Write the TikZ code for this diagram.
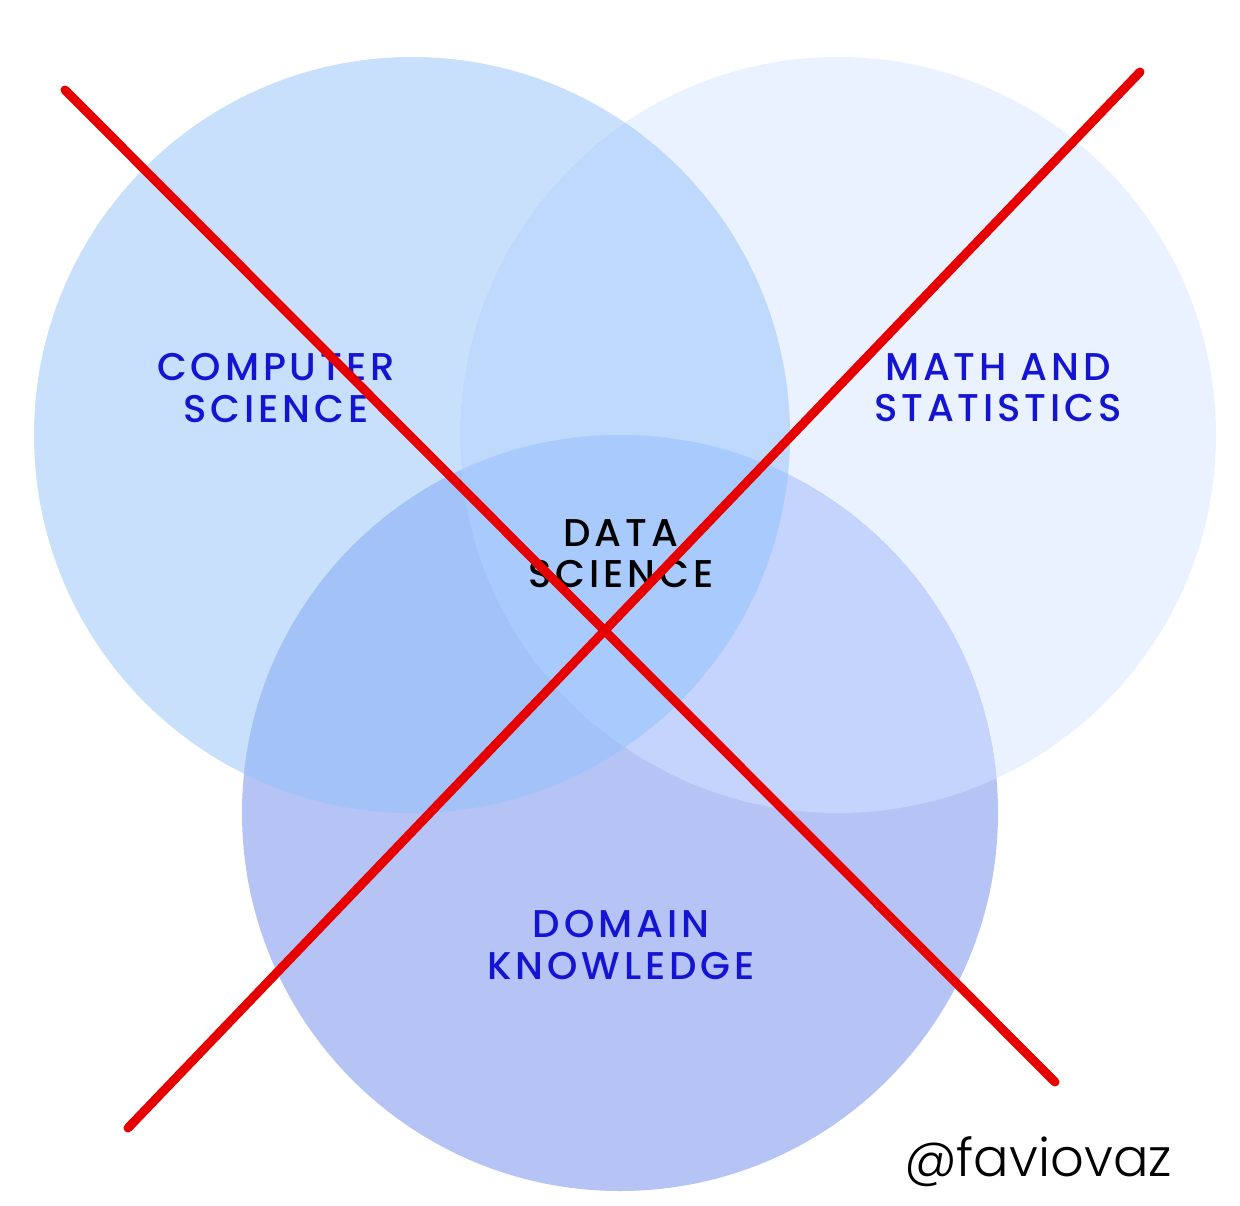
\documentclass[tikz,border=0pt]{standalone}
\usepackage{fontspec}
\newfontfamily\popfont[LetterSpace=10]{Poppins Medium}
\newfontfamily\poplight{Poppins Light}
\definecolor{csblue}{HTML}{C8E0FC}
\definecolor{msblue}{HTML}{E9F2FE}
\definecolor{dkblue}{HTML}{B5C4F4}
\definecolor{csms}{HTML}{BED9FC}
\definecolor{csdk}{HTML}{A3C3F8}
\definecolor{msdk}{HTML}{C5D4FC}
\definecolor{allblue}{HTML}{A9CAFC}
\definecolor{labelblue}{HTML}{1414D2}
\definecolor{crossred}{HTML}{E60000}
\tikzset{
  label/.style={font=\popfont\fontsize{22}{23.5}\selectfont, align=center, text=labelblue},
  cross/.style={crossred, line width=9*0.02cm, line cap=round}
}
\def\cscircle{(412,435) circle (378)}
\def\mscircle{(838,435) circle (378)}
\def\dkcircle{(620,813) circle (378)}
\begin{document}
\begin{tikzpicture}[x=0.02cm,y=-0.02cm]
  \useasboundingbox (0,0) rectangle (1240,1206);
  \fill[csblue] \cscircle;
  \fill[msblue] \mscircle;
  \fill[dkblue] \dkcircle;
  \begin{scope} \clip \cscircle; \fill[csms] \mscircle; \end{scope}
  \begin{scope} \clip \cscircle; \fill[csdk] \dkcircle; \end{scope}
  \begin{scope} \clip \mscircle; \fill[msdk] \dkcircle; \end{scope}
  \begin{scope} \clip \cscircle; \clip \mscircle; \fill[allblue] \dkcircle; \end{scope}
  %%%%%%%%%%%%%%%%%%%%%%%%%%%%%%%%%%%%%%%%%%%%%%%
  \node[label] (cstext) at (276,388) {COMPUTER\\SCIENCE};
  \node[label] (mstext) at (998,388) {MATH AND\\STATISTICS};
  \node[label] (dktext) at (621,945) {DOMAIN\\KNOWLEDGE};
  \node[label, text=black] (dstext) at (621,554) {DATA\\SCIENCE};
  %%%%%%%%%%%%%%%%%%%%%%%%%%%%%%%%%%%%%%%%%%%%%%%
  \coordinate (a1) at (65,90);
  \coordinate (a2) at (1055,1082);
  \coordinate (b1) at (128,1128);
  \coordinate (b2) at (1140,72);
  \draw[cross] (a1) -- (a2);
  \draw[cross] (b1) -- (b2);
  %%%%%%%%%%%%%%%%%%%%%%%%%%%%%%%%%%%%%%%%%%%%%%%
  \node[font=\poplight\fontsize{30}{32}\selectfont] (handle) at (1038,1162) {@faviovaz};
\end{tikzpicture}
\end{document}
